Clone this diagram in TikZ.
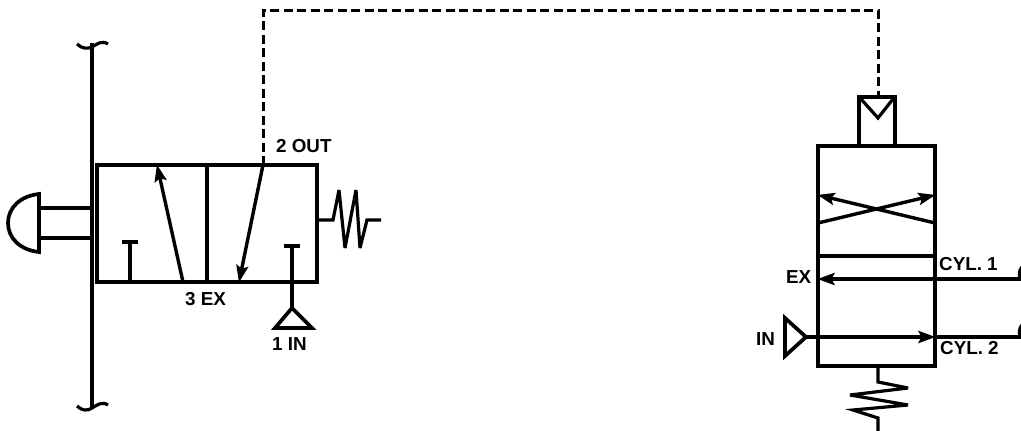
\documentclass[tikz,border=0pt]{standalone}
\usepackage{fontspec}
\setmainfont{Liberation Sans}
\usetikzlibrary{arrows.meta}
\tikzset{
  x=1pt,y=-1pt,
  sym/.style={line width=3.7pt,line join=miter,miter limit=3},
  flow/.style={line width=3.4pt,-{Stealth[length=17pt,width=12pt,inset=3pt]},shorten >=-0.5pt},
  coil/.style={line width=3.2pt,line join=miter,miter limit=6},
  pilot/.style={line width=3pt,dash pattern=on 9pt off 4.5pt},
  lab/.style={inner sep=0pt,font=\fontsize{18.8}{18.8}\selectfont\bfseries,text=black},
}
\begin{document}
\begin{tikzpicture}
\useasboundingbox (0,0) rectangle (1021,431);
\fill[white] (0,0) rectangle (1021,431);
% named anchor points
\coordinate (outport) at (263,165);
\coordinate (bendA) at (263,10);
\coordinate (bendB) at (878,10);
\coordinate (pilotport) at (878,97);
\coordinate (ex1) at (183,282);
\coordinate (ex2) at (157,165);
\coordinate (in1) at (239,282);
\coordinate (in2) at (292,246);
\coordinate (in3) at (292,308);
\coordinate (cyl1out) at (1021,279);
\coordinate (exwall) at (818,279);
\coordinate (inap) at (806,337);
\coordinate (cyl2wall) at (935,337);
\coordinate (cyl2out) at (1021,337);
% panel
\draw[sym] (92,43) -- (92,407);
\draw[coil] (77,44) .. controls (82,49) and (88,49) .. (92,47) .. controls (97,44) and (102,40) .. (108,44);
\draw[coil] (77,406) .. controls (82,411) and (88,411) .. (92,408) .. controls (97,405) and (102,401) .. (108,405);
% push button
\draw[sym] (39,208) -- (92,208) (39,238) -- (92,238);
\draw[sym] (39,194) .. controls (20,196) and (8,208) .. (8,223) .. controls (8,238) and (20,250) .. (39,252) -- cycle;
% left valve
\draw[sym] (97,165) rectangle (317,282);
\draw[sym] (207,165) -- (207,282);
\draw[flow] (ex1) -- (ex2);
\draw[flow] (outport) -- (in1);
\draw[sym] (130,282) -- (130,242) (122,242) -- (138,242);
\draw[sym] (284,246) -- (300,246) (in2) -- (in3);
\draw[sym] (in3) -- (312,328) -- (275,328) -- cycle;
\draw[coil] (317,220) -- (333,220) -- (339,190) -- (345,248) -- (356,190) -- (360,248) -- (367,220) -- (381,220);
% pilot line
\draw[pilot] (outport) -- (bendA) -- (bendB) -- (pilotport);
% right valve
\draw[sym] (818,146) rectangle (935,366);
\draw[sym] (818,256) -- (935,256);
\draw[sym] (859,146) -- (859,97) -- (895,97) -- (895,146);
\draw[coil] (861,99) -- (878,118) -- (893,99);
\draw[flow] (818,223) -- (935,195);
\draw[flow] (935,223) -- (818,195);
\draw[flow] (cyl1out) -- (exwall);
\draw[flow] (inap) -- (cyl2wall);
\draw[sym] (cyl2wall) -- (cyl2out);
\draw[sym] (inap) -- (785,318) -- (785,356) -- cycle;
\draw[coil] (878,366) -- (878,382) -- (908,388) -- (850,395) -- (908,405) -- (853,410) -- (878,418) -- (878,431);
% partly cut-off port circles at the right edge
\draw[coil] (1022,267) .. controls (1019,270) and (1019,275) .. (1020,279);
\draw[coil] (1022,325) .. controls (1019,328) and (1019,333) .. (1020,337);
% labels
\node[lab,anchor=west] (l2out) at (276,146) {2 OUT};
\node[lab,anchor=west] (l3ex) at (185,299) {3 EX};
\node[lab,anchor=west] (l1in) at (272,344) {1 IN};
\node[lab,anchor=west] (lcyl1) at (939,264) {CYL. 1};
\node[lab,anchor=west] (lcyl2) at (940,348) {CYL. 2};
\node[lab,anchor=west] (lex) at (786,277) {EX};
\node[lab,anchor=west] (lin) at (756,339) {IN};
\end{tikzpicture}
\end{document}
